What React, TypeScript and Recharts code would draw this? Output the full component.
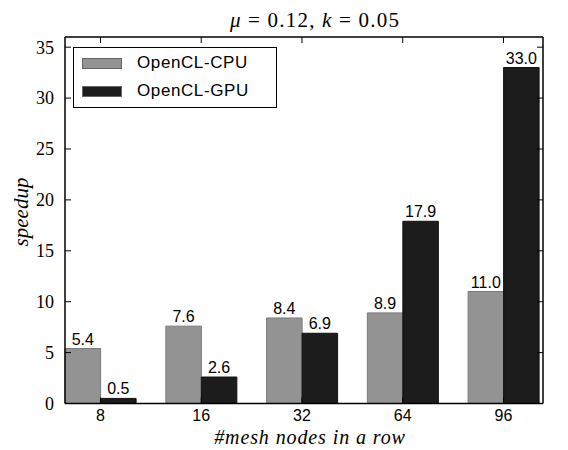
import React from 'react'
import { BarChart, Bar, XAxis, YAxis, LabelList, Legend, Label } from 'recharts'

const meshSizes = ['8', '16', '32', '64', '96']
const cpuSpeedup = [5.4, 7.6, 8.4, 8.9, 11.0]
const gpuSpeedup = [0.5, 2.6, 6.9, 17.9, 33.0]
const yTicks = [0, 5, 10, 15, 20, 25, 30, 35]

const data = meshSizes.map((m, i) => ({
  mesh: m,
  cpu: cpuSpeedup[i],
  gpu: gpuSpeedup[i],
}))

const SANS = '"Liberation Sans", Arial, sans-serif'
const SERIF = '"Liberation Serif", "Times New Roman", serif'
const CPU_COLOR = '#939393'
const GPU_COLOR = '#1c1c1c'

const xPadding = { left: -14.9, right: -10.85 }

function LegendBox() {
  return (
    <div
      style={{
        border: '1.5px solid #000',
        width: 204,
        height: 61,
        background: '#fff',
        fontFamily: SANS,
        fontSize: 17,
        color: '#000',
        boxSizing: 'border-box',
        position: 'relative',
      }}
    >
      {[
        { name: 'OpenCL-CPU', color: CPU_COLOR, top: 5 },
        { name: 'OpenCL-GPU', color: GPU_COLOR, top: 33 },
      ].map((it) => (
        <div key={it.name} style={{ position: 'absolute', left: 8, top: it.top, display: 'flex', alignItems: 'center', whiteSpace: 'nowrap' }}>
          <span style={{ display: 'inline-block', width: 40, height: 11, background: it.color, border: '1px solid #666', boxSizing: 'border-box' }} />
          <span style={{ marginLeft: 15, lineHeight: '20px', letterSpacing: 0.6 }}>{it.name}</span>
        </div>
      ))}
    </div>
  )
}

export default function App() {
  return (
    <div style={{ position: 'absolute', left: 0, top: 0, width: 568, height: 450, background: '#fff' }}>
      <BarChart
        width={568}
        height={450}
        data={data}
        margin={{ top: 36, right: 0, bottom: 16.5, left: 0 }}
        barGap={0}
        barSize={35.5}
      >
        <XAxis
          dataKey="mesh"
          xAxisId="bottom"
          orientation="bottom"
          height={30}
          padding={xPadding}
          axisLine={{ stroke: '#000', strokeWidth: 1.5 }}
          tickLine={{ stroke: '#000', strokeWidth: 1 }}
          tickSize={-6}
          tickMargin={12}
          tick={{ fill: '#000', fontFamily: SANS, fontSize: 16 }}
        >
          <Label
            content={({ viewBox }: any) => (
              <text
                x={viewBox.x + viewBox.width / 2 + 6}
                y={444}
                textAnchor="middle"
                fontFamily={SERIF}
                fontStyle="italic"
                fontSize={20}
                letterSpacing={0.9}
                fill="#000"
              >
                #mesh nodes in a row
              </text>
            )}
          />
        </XAxis>
        <XAxis
          dataKey="mesh"
          xAxisId="top"
          orientation="top"
          height={1}
          padding={xPadding}
          axisLine={{ stroke: '#000', strokeWidth: 1.5 }}
          tickLine={{ stroke: '#000', strokeWidth: 1 }}
          tickSize={-6}
          tickFormatter={() => ''}
        >
          <Label
            content={() => (
              <text x={315} y={27} textAnchor="middle" fontFamily={SERIF} fontSize={21} letterSpacing={1.2} fill="#000">
                <tspan fontStyle="italic">μ</tspan>
                <tspan> = 0.12, </tspan>
                <tspan fontStyle="italic">k</tspan>
                <tspan> = 0.05</tspan>
              </text>
            )}
          />
        </XAxis>
        <YAxis
          yAxisId="left"
          orientation="left"
          width={65}
          domain={[0, 36]}
          ticks={yTicks}
          allowDataOverflow
          axisLine={{ stroke: '#000', strokeWidth: 1.5 }}
          tickLine={{ stroke: '#000', strokeWidth: 1 }}
          tickSize={-6}
          tickMargin={17}
          tick={{ fill: '#000', fontFamily: SERIF, fontSize: 18 }}
        >
          <Label
            content={() => (
              <text
                x={28}
                y={212}
                transform="rotate(-90 28 212)"
                textAnchor="middle"
                fontFamily={SERIF}
                fontStyle="italic"
                fontSize={21}
                fill="#000"
              >
                speedup
              </text>
            )}
          />
        </YAxis>
        <YAxis
          yAxisId="right"
          orientation="right"
          width={25}
          domain={[0, 36]}
          ticks={yTicks}
          allowDataOverflow
          axisLine={{ stroke: '#000', strokeWidth: 1.5 }}
          tickLine={{ stroke: '#000', strokeWidth: 1 }}
          tickSize={-6}
          tickFormatter={() => ''}
        />
        <Legend
          layout="horizontal"
          verticalAlign="middle"
          align="center"
          wrapperStyle={{ position: 'absolute', left: 73, top: 47, width: 'auto', height: 'auto' }}
          content={() => <LegendBox />}
        />
        <Bar
          dataKey="cpu"
          name="OpenCL-CPU"
          xAxisId="bottom"
          yAxisId="left"
          fill={CPU_COLOR}
          stroke="#7a7a7a"
          strokeWidth={1}
          isAnimationActive={false}
        >
          <LabelList
            dataKey="cpu"
            position="top"
            offset={4}
            formatter={(v: any) => Number(v).toFixed(1)}
            style={{ fill: '#000', fontFamily: SANS, fontSize: 16 }}
          />
        </Bar>
        <Bar
          dataKey="gpu"
          name="OpenCL-GPU"
          xAxisId="bottom"
          yAxisId="left"
          fill={GPU_COLOR}
          stroke="#111"
          strokeWidth={1}
          isAnimationActive={false}
        >
          <LabelList
            dataKey="gpu"
            position="top"
            offset={4}
            formatter={(v: any) => Number(v).toFixed(1)}
            style={{ fill: '#000', fontFamily: SANS, fontSize: 16 }}
          />
        </Bar>
      </BarChart>
    </div>
  )
}
